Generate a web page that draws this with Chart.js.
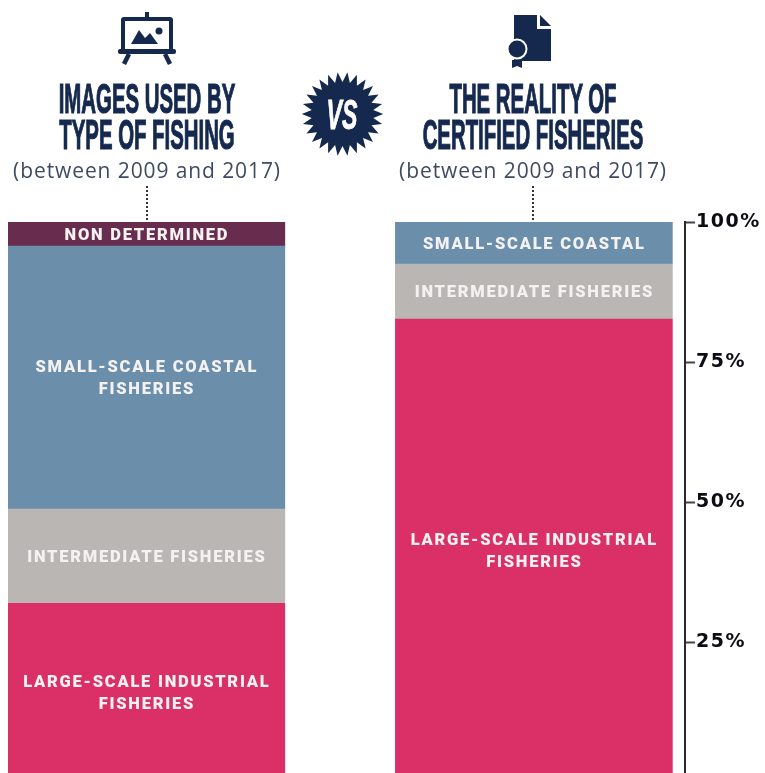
<!DOCTYPE html>
<html><head><meta charset="utf-8">
<script src="https://cdn.jsdelivr.net/npm/chart.js@4"></script>
<style>
html,body{margin:0;padding:0;width:765px;height:773px;overflow:hidden;background:#fff}
#wrap{position:relative;width:765px;height:773px;overflow:hidden}
canvas{position:absolute;left:0;top:0}
.t{position:absolute;white-space:nowrap;transform-origin:50% 50%;text-align:center}
.h{font:700 42px/44px "Liberation Sans",sans-serif;color:#15294f;width:600px;-webkit-text-stroke:1.2px #15294f;transform:scaleX(.485)}
.s{font:400 21px/24px "Open Sans",sans-serif;color:#3f4a63;width:400px;letter-spacing:.9px}
.d{position:absolute;top:186px;height:34px;border-left:2px dotted #333}
svg{position:absolute;left:0;top:0}
</style></head><body>
<div id="wrap">
<canvas id="c" width="765" height="795" style="width:765px;height:795px"></canvas>
<div class="t h" style="left:-153px;top:77px">IMAGES USED BY</div>
<div class="t h" style="left:-153px;top:113px">TYPE OF FISHING</div>
<div class="t s" style="left:-53px;top:158px">(between 2009 and 2017)</div>
<div class="t h" style="left:233px;top:77px">THE REALITY OF</div>
<div class="t h" style="left:233px;top:113px">CERTIFIED FISHERIES</div>
<div class="t s" style="left:333px;top:158px">(between 2009 and 2017)</div>
<div class="d" style="left:146px"></div>
<div class="d" style="left:532px"></div>
<svg width="765" height="200" viewBox="0 0 765 200" fill="#15294f">
  <rect x="145" y="12" width="4" height="7"/>
  <rect x="123" y="19" width="48" height="32" rx="1" fill="none" stroke="#15294f" stroke-width="4"/>
  <rect x="118" y="49" width="58" height="5" rx="2"/>
  <path d="M129 54l-5 10M165 54l5 10" stroke="#15294f" stroke-width="4.5" fill="none"/>
  <path d="M131 44l8-14 6 8 5-5 8 11z"/>
  <circle cx="159" cy="31" r="3.5"/>
  <path d="M514 15h23v14h14v32h-37z"/>
  <path d="M540 15l11 11h-11z"/>
  <circle cx="517" cy="49" r="9.5" stroke="#fff" stroke-width="2"/>
  <path d="M512 60h10v8l-5-2-5 2z"/>
  <polygon id="star"/>
  <text x="342" y="129" text-anchor="middle" transform="translate(342 0) scale(.55 1) translate(-342 0)" font-family="Liberation Sans" font-weight="700" font-style="italic" font-size="42" stroke="#fff" stroke-width=".8" fill="#fff">VS</text>
</svg>
</div>
<script>
const categories = ["Images used by type of fishing", "The reality of certified fisheries"];
const largeScale = [32, 82.7];
const intermediate = [16.8, 9.8];
const smallScale = [46.9, 7.5];
const nonDetermined = [4.3, 0];
const largeLabels = [["LARGE-SCALE INDUSTRIAL", "FISHERIES"], ["LARGE-SCALE INDUSTRIAL", "FISHERIES"]];
const intermediateLabels = [["INTERMEDIATE FISHERIES"], ["INTERMEDIATE FISHERIES"]];
const smallLabels = [["SMALL-SCALE COASTAL", "FISHERIES"], ["SMALL-SCALE COASTAL"]];
const nonDeterminedLabels = [["NON DETERMINED"], []];
const yTicks = [0, 25, 50, 75, 100];

// burst behind "VS"
(function(){
  const pts=[], n=26, cx=342.5, cy=114;
  for(let i=0;i<n*2;i++){
    const r=i%2?32:42, a=Math.PI*i/n;
    pts.push((cx+r*Math.cos(a)*.97).toFixed(1)+","+(cy+r*Math.sin(a)).toFixed(1));
  }
  document.getElementById("star").setAttribute("points",pts.join(" "));
})();

const barLabels = {
  id:"barLabels",
  beforeDraw(chart){ chart.ctx.letterSpacing="1.5px"; },
  afterDatasetsDraw(chart){
    const ctx=chart.ctx;
    ctx.save();
    ctx.letterSpacing="1.75px";
    ctx.font='900 16.5px Roboto, sans-serif';
    ctx.fillStyle="#f4f1f1";
    ctx.textAlign="center";
    ctx.textBaseline="middle";
    chart.data.datasets.forEach((ds,di)=>{
      chart.getDatasetMeta(di).data.forEach((el,i)=>{
        const lines=ds.textLabels[i];
        const cy=(el.y+el.base)/2+1.5;
        lines.forEach((t,k)=>ctx.fillText(t,el.x+.5,cy+(k-(lines.length-1)/2)*22));
      });
    });
    ctx.restore();
  }
};

new Chart(document.getElementById("c"),{
  type:"bar",
  data:{labels:categories,datasets:[
    {label:"Large-scale industrial fisheries",data:largeScale,backgroundColor:"#db2f68",textLabels:largeLabels},
    {label:"Intermediate fisheries",data:intermediate,backgroundColor:"#b9b6b3",textLabels:intermediateLabels},
    {label:"Small-scale coastal fisheries",data:smallScale,backgroundColor:"#6b8eaa",textLabels:smallLabels},
    {label:"Non determined",data:nonDetermined,backgroundColor:"#682c4f",textLabels:nonDeterminedLabels}
  ]},
  plugins:[barLabels],
  options:{
    responsive:false,animation:false,
    layout:{padding:{left:8,top:222,bottom:9,right:0}},
    barThickness:277,
    plugins:{legend:{display:false},tooltip:{enabled:false},title:{display:false}},
    scales:{
      x:{type:"category",stacked:true,display:false,offset:false,
         afterBuildTicks(s){s._startValue=-0.357;s._valueRange=1.747;}},
      y:{stacked:true,position:"right",min:0,max:100,
         afterBuildTicks(s){s.ticks=yTicks.map(v=>({value:v}));},
         afterFit(s){s.width=80;},
         border:{display:true,color:"#2a2a2a",width:2},
         grid:{drawOnChartArea:false,drawTicks:true,tickLength:10,tickWidth:2,tickColor:"#444"},
         ticks:{padding:1,color:"#0c0c14",font:{family:"DejaVu Sans",weight:"700",size:19},callback:v=>v+"%"}}
    }
  }
});
</script>
</body></html>
